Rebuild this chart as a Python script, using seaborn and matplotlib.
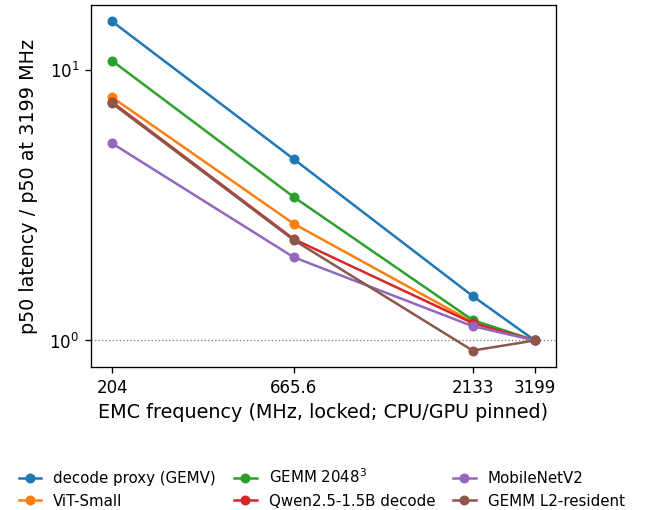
"""
EMC 频率扫描：各负载 p50 延迟相对 3199 MHz 的倍数
"""
import matplotlib
matplotlib.use("Agg")
import matplotlib.pyplot as plt
from matplotlib.ticker import FixedLocator, FixedFormatter, NullLocator
import numpy as np
import pandas as pd
import seaborn as sns

# 频率点 (MHz)
freqs = [204, 665.6, 2133, 3199]
freq_labels = ["204", "665.6", "2133", "3199"]

# 负载名称（图例顺序）
workloads = [
    "decode proxy (GEMV)",
    "ViT-Small",
    "GEMM 2048$^3$",
    "Qwen2.5-1.5B decode",
    "MobileNetV2",
    "GEMM L2-resident",
]

# 各负载 p50 / p50@3199
gemv = [15.1, 4.68, 1.46, 1.0]
vit = [7.92, 2.70, 1.17, 1.0]
gemm2048 = [10.8, 3.39, 1.19, 1.0]
qwen = [7.6, 2.37, 1.16, 1.0]
mobilenet = [5.35, 2.03, 1.13, 1.0]
gemm_l2 = [7.52, 2.35, 0.918, 1.0]

series = [gemv, vit, gemm2048, qwen, mobilenet, gemm_l2]

rows = []
for name, vals in zip(workloads, series):
    for f, v in zip(freqs, vals):
        rows.append({"freq": f, "ratio": v, "workload": name})
df = pd.DataFrame(rows)

fig = plt.figure(figsize=(662 / 120, 510 / 120), dpi=120)
ax = fig.add_axes([91 / 662, 1 - 367 / 510, 465 / 662, 362 / 510])

sns.lineplot(
    data=df, x="freq", y="ratio", hue="workload", hue_order=workloads,
    palette=sns.color_palette("tab10", len(workloads)),
    marker="o", markersize=6, markeredgewidth=0, linewidth=1.5, ax=ax,
)
ax.axhline(1.0, color="gray", linestyle=":", linewidth=0.8, zorder=0)

ax.set_xscale("log")
ax.set_yscale("log")
ax.xaxis.set_major_locator(FixedLocator(freqs))
ax.xaxis.set_major_formatter(FixedFormatter(freq_labels))
ax.xaxis.set_minor_locator(NullLocator())
ax.yaxis.set_minor_locator(NullLocator())
ax.tick_params(labelsize=10)

ax.set_xlabel("EMC frequency (MHz, locked; CPU/GPU pinned)", fontsize=11.5)
ax.set_ylabel("p50 latency / p50 at 3199 MHz", fontsize=11.5, labelpad=7)

handles, labels = ax.get_legend_handles_labels()
ax.get_legend().remove()
fig.legend(handles, labels, loc="center", bbox_to_anchor=(0.486, 1 - 488 / 510),
           ncol=3, frameon=False, fontsize=9, columnspacing=1.2,
           handlelength=1.5, handletextpad=0.8)

fig.savefig("out.png", dpi=120)
plt.close(fig)
